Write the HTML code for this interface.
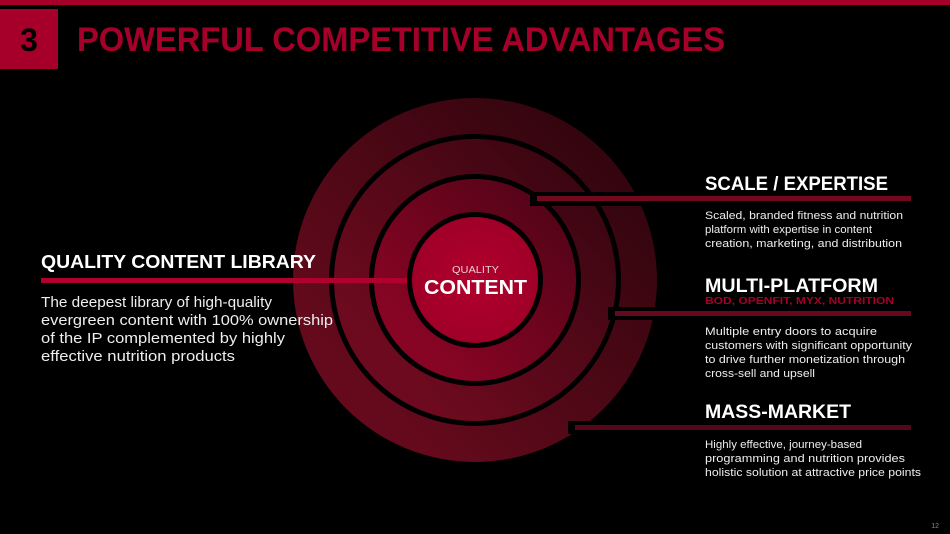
<!DOCTYPE html>
<html><head><meta charset="utf-8"><style>
html,body{margin:0;padding:0;background:#000;}
body{width:950px;height:534px;overflow:hidden;position:relative;}
svg{position:absolute;left:0;top:0;}
</style></head><body>
<svg width="950" height="534" viewBox="0 0 950 534" xmlns="http://www.w3.org/2000/svg">
<defs>
<linearGradient id="g4" x1="0.2" y1="0.8" x2="0.85" y2="0.15">
<stop offset="0" stop-color="#640a1c"/><stop offset="1" stop-color="#33050e"/></linearGradient>
<linearGradient id="g3" x1="0.2" y1="0.8" x2="0.85" y2="0.15">
<stop offset="0" stop-color="#6e0a1f"/><stop offset="1" stop-color="#3c0611"/></linearGradient>
<linearGradient id="g2" x1="0.2" y1="0.8" x2="0.85" y2="0.15">
<stop offset="0" stop-color="#880424"/><stop offset="1" stop-color="#560418"/></linearGradient>
<radialGradient id="g1" cx="0.5" cy="0.5" r="0.5">
<stop offset="0" stop-color="#b0002c"/><stop offset="1" stop-color="#a00028"/></radialGradient>
</defs>
<rect x="0" y="0" width="950" height="5" fill="#a6002a"/>
<rect x="0" y="9" width="58" height="60" fill="#a6002a"/>
<text x="29" y="51" text-anchor="middle" font-family="Liberation Sans, sans-serif" font-weight="bold" font-size="32" fill="#000">3</text>
<text x="77" y="51" font-family="Liberation Sans, sans-serif" font-weight="bold" font-size="34" fill="#a6002a" textLength="648" lengthAdjust="spacingAndGlyphs">POWERFUL COMPETITIVE ADVANTAGES</text>

<circle cx="475" cy="280" r="182" fill="url(#g4)"/>
<circle cx="475" cy="280" r="146" fill="#000"/>
<circle cx="475" cy="280" r="141" fill="url(#g3)"/>
<circle cx="475" cy="280" r="106" fill="#000"/>
<circle cx="475" cy="280" r="101" fill="url(#g2)"/>
<circle cx="475" cy="280" r="68" fill="#000"/>
<circle cx="475" cy="280" r="63" fill="url(#g1)"/>

<rect x="530" y="192" width="400" height="14" fill="#000"/>
<rect x="537" y="196" width="374" height="5" fill="#72091f"/>
<rect x="608" y="307" width="320" height="13" fill="#000"/>
<rect x="615" y="311" width="296" height="5" fill="#68081e"/>
<rect x="568" y="421" width="360" height="13" fill="#000"/>
<rect x="575" y="425" width="336" height="5" fill="#560818"/>
<rect x="41" y="278" width="366" height="5" fill="#b0002e"/>

<text x="452" y="273" font-family="Liberation Sans, sans-serif" font-size="10" fill="#e8d0d4" textLength="47" lengthAdjust="spacingAndGlyphs">QUALITY</text>
<text x="424" y="294" font-family="Liberation Sans, sans-serif" font-weight="bold" font-size="20" fill="#fff" textLength="103" lengthAdjust="spacingAndGlyphs">CONTENT</text>

<g font-family="Liberation Sans, sans-serif" fill="#fff">
<text x="41" y="268" font-weight="bold" font-size="18" textLength="275" lengthAdjust="spacingAndGlyphs">QUALITY CONTENT LIBRARY</text>
<g font-size="15" fill="#eee">
<text x="41" y="307" textLength="231" lengthAdjust="spacingAndGlyphs">The deepest library of high-quality</text>
<text x="41" y="325" textLength="292" lengthAdjust="spacingAndGlyphs">evergreen content with 100% ownership</text>
<text x="41" y="343" textLength="244" lengthAdjust="spacingAndGlyphs">of the IP complemented by highly</text>
<text x="41" y="361" textLength="194" lengthAdjust="spacingAndGlyphs">effective nutrition products</text>
</g>
<text x="705" y="190" font-weight="bold" font-size="19.5" textLength="183" lengthAdjust="spacingAndGlyphs">SCALE / EXPERTISE</text>
<g font-size="11" fill="#eee">
<text x="705" y="219" textLength="198" lengthAdjust="spacingAndGlyphs">Scaled, branded fitness and nutrition</text>
<text x="705" y="233" textLength="167" lengthAdjust="spacingAndGlyphs">platform with expertise in content</text>
<text x="705" y="247" textLength="197" lengthAdjust="spacingAndGlyphs">creation, marketing, and distribution</text>
</g>
<text x="705" y="292" font-weight="bold" font-size="19.5" textLength="173" lengthAdjust="spacingAndGlyphs">MULTI-PLATFORM</text>
<text x="705" y="304" font-weight="bold" font-size="10.5" fill="#a6002a" textLength="189" lengthAdjust="spacingAndGlyphs">BOD, OPENFIT, MYX, NUTRITION</text>
<g font-size="11" fill="#eee">
<text x="705" y="335" textLength="172" lengthAdjust="spacingAndGlyphs">Multiple entry doors to acquire</text>
<text x="705" y="349" textLength="207" lengthAdjust="spacingAndGlyphs">customers with significant opportunity</text>
<text x="705" y="363" textLength="200" lengthAdjust="spacingAndGlyphs">to drive further monetization through</text>
<text x="705" y="377" textLength="110" lengthAdjust="spacingAndGlyphs">cross-sell and upsell</text>
</g>
<text x="705" y="418" font-weight="bold" font-size="19.5" textLength="146" lengthAdjust="spacingAndGlyphs">MASS-MARKET</text>
<g font-size="11" fill="#eee">
<text x="705" y="448" textLength="157" lengthAdjust="spacingAndGlyphs">Highly effective, journey-based</text>
<text x="705" y="462" textLength="200" lengthAdjust="spacingAndGlyphs">programming and nutrition provides</text>
<text x="705" y="476" textLength="216" lengthAdjust="spacingAndGlyphs">holistic solution at attractive price points</text>
</g>
<text x="939" y="528" text-anchor="end" font-size="7" fill="#888">12</text>
</g>
</svg>
</body></html>
